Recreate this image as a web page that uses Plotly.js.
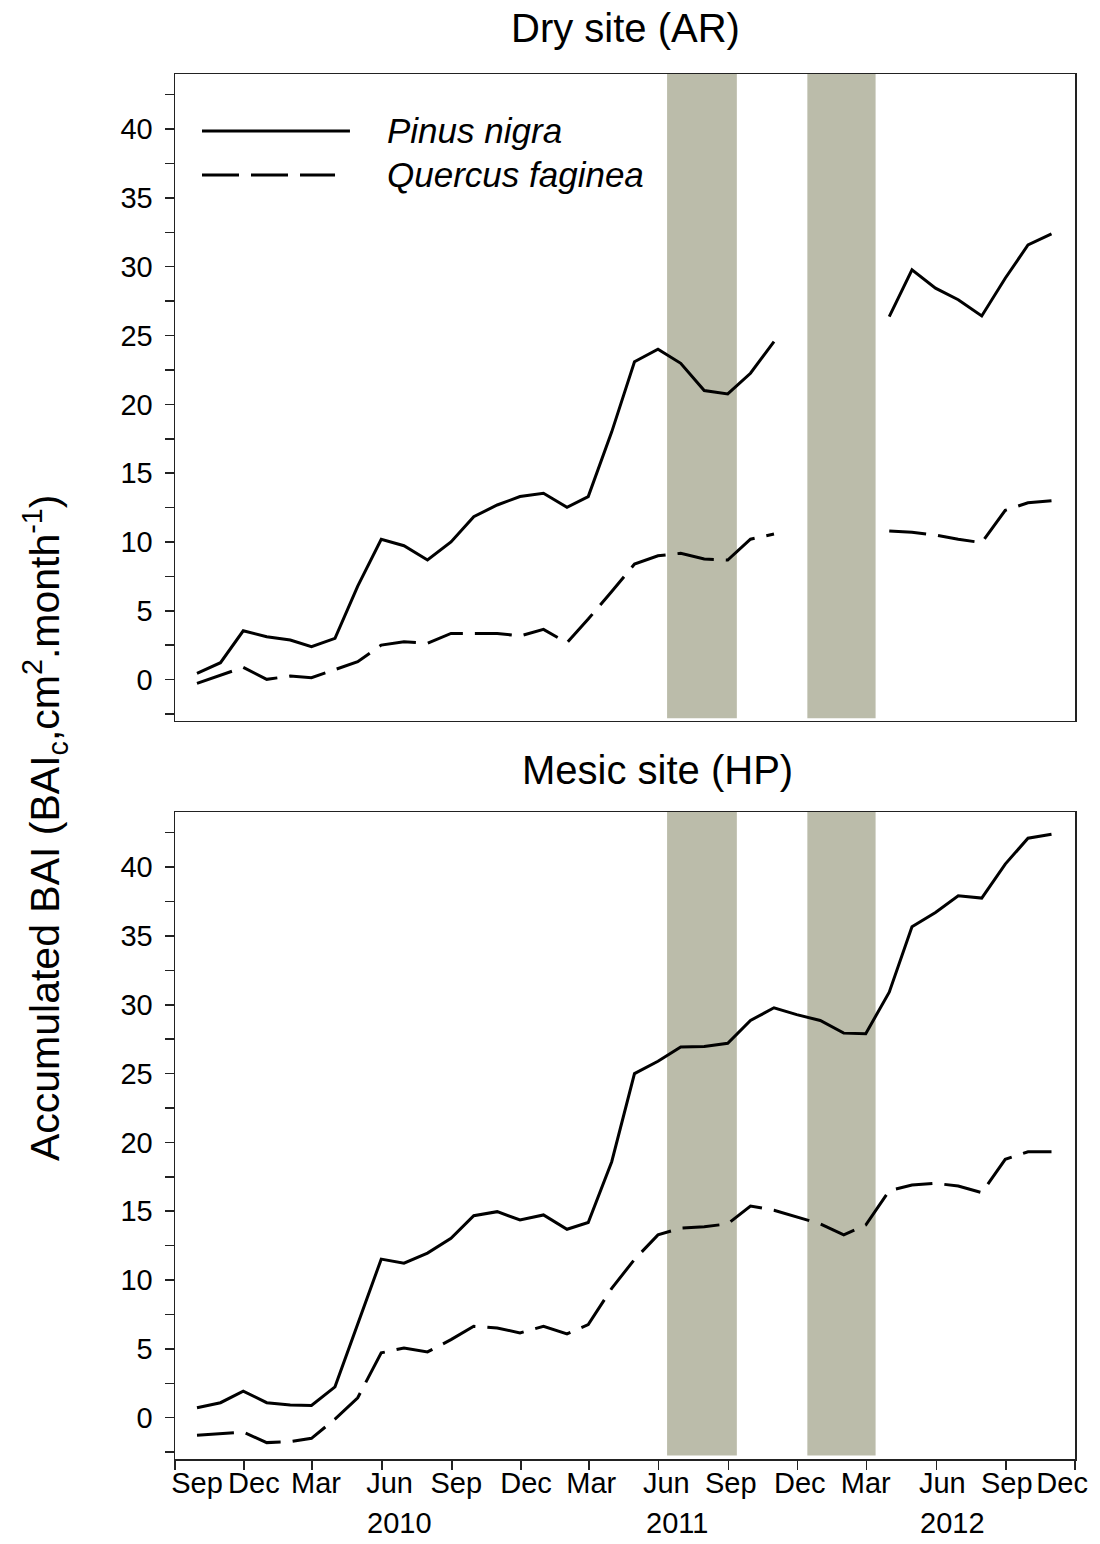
<!DOCTYPE html>
<html>
<head>
<meta charset="utf-8">
<script src="https://cdn.plot.ly/plotly-3.0.1.min.js"></script>
<style>
html,body{margin:0;padding:0;background:#fff;}
#chart{width:1100px;height:1544px;}
</style>
</head>
<body>
<div id="chart"></div>
<script>
// Month-end sampling dates (Sep 2009 – Oct 2012)
const dates = [
  "2009-09-30","2009-10-31","2009-11-30","2009-12-31","2010-01-31","2010-02-28",
  "2010-03-31","2010-04-30","2010-05-31","2010-06-30","2010-07-31","2010-08-31",
  "2010-09-30","2010-10-31","2010-11-30","2010-12-31","2011-01-31","2011-02-28",
  "2011-03-31","2011-04-30","2011-05-31","2011-06-30","2011-07-31","2011-08-31",
  "2011-09-30","2011-10-31","2011-11-30","2011-12-31","2012-01-31","2012-02-29",
  "2012-03-31","2012-04-30","2012-05-31","2012-06-30","2012-07-31","2012-08-31",
  "2012-09-30","2012-10-31"
];

// Dry site (AR)
const dryPinus = [0.46, 1.23, 3.55, 3.12, 2.88, 2.39, 3.0, 6.8, 10.2, 9.73,
  8.69, 10.0, 11.84, 12.69, 13.3, 13.54, 12.52, 13.3, 18.0, 23.1,
  24.0, 22.98, 21.0, 20.76, 22.26, 24.56, null, null, null, null,
  26.37, 29.77, 28.44, 27.6, 26.42, 29.16, 31.58, 32.38];
const dryQuercus = [-0.27, 0.33, 0.89, 0.02, 0.26, 0.14, 0.75, 1.3, 2.51, 2.75,
  2.64, 3.36, 3.36, 3.36, 3.17, 3.65, 2.68, 4.4, 6.4, 8.4,
  9.0, 9.18, 8.76, 8.69, 10.2, 10.58, null, null, null, null,
  10.8, 10.7, 10.5, 10.2, 9.95, 12.3, 12.85, 13.0];

// Mesic site (HP)
const mesicPinus = [0.72, 1.09, 1.93, 1.09, 0.92, 0.89, 2.24, 6.8, 11.52, 11.23,
  11.96, 13.04, 14.68, 14.97, 14.37, 14.73, 13.69, 14.18, 18.6, 25.0,
  25.9, 26.93, 26.97, 27.2, 28.86, 29.78, 29.28, 28.86, 27.94, 27.9,
  30.91, 35.67, 36.71, 37.92, 37.75, 40.22, 42.1, 42.39];
const mesicQuercus = [-1.28, -1.15, -1.05, -1.81, -1.74, -1.5, -0.1, 1.45, 4.71, 5.07,
  4.78, 5.67, 6.64, 6.52, 6.16, 6.64, 6.09, 6.76, 9.4, 11.5,
  13.28, 13.77, 13.88, 14.08, 15.38, 15.07, 14.57, 14.08, 13.28, 14.0,
  16.49, 16.9, 17.03, 16.83, 16.35, 18.77, 19.32, 19.32];

// Shaded periods
const bandStarts = ["2011-06-12", "2011-12-14"];
const bandEnds   = ["2011-09-12", "2012-03-13"];

// Axis ticks (tick marks at quarter starts; labels set slightly off the marks as in the original)
const xTickVals = ["2009-09-01","2009-12-01","2010-03-01","2010-06-01","2010-09-01","2010-12-01",
  "2011-03-01","2011-06-01","2011-09-01","2011-12-01","2012-03-01","2012-06-01","2012-09-01","2012-12-01"];
const xLabelVals = ["2009-09-30","2009-12-14","2010-03-06","2010-06-11","2010-09-07","2010-12-08",
  "2011-03-04","2011-06-11","2011-09-04","2011-12-04","2012-02-29","2012-06-09","2012-09-02","2012-11-14"];
const xTickText = ["Sep","Dec","Mar","Jun","Sep","Dec","Mar","Jun","Sep","Dec","Mar","Jun","Sep","Dec"];
const yearLabels = ["2010","2011","2012"];
const yearPos = ["2010-06-24","2011-06-25","2012-06-23"];

const seriesNames = ["Pinus nigra", "Quercus faginea"];
const panelTitles = ["Dry site (AR)", "Mesic site (HP)"];

const FONT = "Liberation Sans, Arial, sans-serif";
const solid = {color: "#000", width: 3, dash: "solid"};
const dashed = {color: "#000", width: 3, dash: "37px,12px"};

const traces = [
  {x: dates, y: dryPinus, xaxis: "x", yaxis: "y", mode: "lines", line: solid, name: seriesNames[0], showlegend: false, connectgaps: false},
  {x: dates, y: dryQuercus, xaxis: "x", yaxis: "y", mode: "lines", line: dashed, name: seriesNames[1], showlegend: false, connectgaps: false},
  {x: dates, y: mesicPinus, xaxis: "x2", yaxis: "y2", mode: "lines", line: solid, name: seriesNames[0], showlegend: false},
  {x: dates, y: mesicQuercus, xaxis: "x3", yaxis: "y2", mode: "lines", line: dashed, name: seriesNames[1], showlegend: false}
];

const bandColor = "#BBBCAA";
const shapes = [];
for (let i = 0; i < bandStarts.length; i++) {
  shapes.push({type: "rect", xref: "x", yref: "y", x0: bandStarts[i], x1: bandEnds[i], y0: -2.8, y1: 44,
    fillcolor: bandColor, line: {width: 0}, layer: "below"});
  shapes.push({type: "rect", xref: "x2", yref: "y2", x0: bandStarts[i], x1: bandEnds[i], y0: -2.75, y1: 44,
    fillcolor: bandColor, line: {width: 0}, layer: "below"});
}
// legend samples
shapes.push({type: "line", xref: "x domain", yref: "y domain", x0: 0.03, x1: 0.1944, y0: 0.912, y1: 0.912,
  line: {color: "#000", width: 3}});
shapes.push({type: "line", xref: "x domain", yref: "y domain", x0: 0.03, x1: 0.1778, y0: 0.8439, y1: 0.8439,
  line: {color: "#000", width: 3, dash: "37px,12px"}});

const annotations = [
  {text: panelTitles[0], xref: "paper", yref: "paper", x: 0.5, y: 1.0332, xanchor: "center", yanchor: "middle",
   showarrow: false, font: {family: FONT, size: 40, color: "#000"}},
  {text: panelTitles[1], xref: "paper", yref: "paper", x: 0.5356, y: 0.4975, xanchor: "center", yanchor: "middle",
   showarrow: false, font: {family: FONT, size: 40, color: "#000"}},
  {text: "Accumulated BAI (BAI<sub>c</sub>,cm<sup>2</sup>.month<sup>-1</sup>)", xref: "paper", yref: "paper",
   x: -0.1444, y: 0.4556, xanchor: "center", yanchor: "middle", textangle: -90,
   showarrow: false, font: {family: FONT, size: 41, color: "#000"}},
  {text: "<i>" + seriesNames[0] + "</i>", xref: "x domain", yref: "y domain", x: 0.2333, y: 0.912,
   xanchor: "left", yanchor: "middle", showarrow: false, font: {family: FONT, size: 35, color: "#000"}},
  {text: "<i>" + seriesNames[1] + "</i>", xref: "x domain", yref: "y domain", x: 0.2333, y: 0.8439,
   xanchor: "left", yanchor: "middle", showarrow: false, font: {family: FONT, size: 35, color: "#000"}}
];
for (let i = 0; i < yearLabels.length; i++) {
  annotations.push({text: yearLabels[i], xref: "x2", yref: "paper", x: yearPos[i], y: -0.0462,
    xanchor: "center", yanchor: "middle", showarrow: false, font: {family: FONT, size: 29, color: "#000"}});
}

const axisLine = {showline: true, linecolor: "#222", linewidth: 1.5, mirror: true, showgrid: false, zeroline: false};
const yCommon = Object.assign({}, axisLine, {
  range: [-3, 44], tickmode: "linear", tick0: 0, dtick: 5, ticks: "outside", ticklen: 9, tickwidth: 1.5,
  tickcolor: "#222", tickfont: {family: FONT, size: 29, color: "#000"}, ticklabelstandoff: 6,
  minor: {tickmode: "linear", tick0: 0, dtick: 2.5, ticks: "outside", ticklen: 9, tickwidth: 1.5, tickcolor: "#222", showgrid: false}
});

const xRange = ["2009-09-01", "2012-12-01"];
const layout = {
  width: 1100, height: 1544,
  margin: {l: 175, r: 25, t: 74, b: 85},
  paper_bgcolor: "#fff", plot_bgcolor: "#fff",
  showlegend: false,
  font: {family: FONT, color: "#000"},
  xaxis: Object.assign({}, axisLine, {type: "date", range: xRange, anchor: "y",
    domain: [0, 1], showticklabels: false, ticks: ""}),
  xaxis2: Object.assign({}, axisLine, {type: "date", range: xRange, anchor: "y2",
    domain: [0, 1], tickmode: "array", tickvals: xTickVals, ticktext: xTickText, showticklabels: false,
    ticks: "outside", ticklen: 9, tickwidth: 1.5, tickcolor: "#222"}),
  xaxis3: {type: "date", range: xRange, anchor: "y2", overlaying: "x2", side: "bottom",
    showline: false, showgrid: false, zeroline: false, ticks: "", tickmode: "array",
    tickvals: xLabelVals, ticktext: xTickText, ticklabelstandoff: 4, ticklabeloverflow: "allow",
    tickfont: {family: FONT, size: 29, color: "#000"}},
  yaxis: Object.assign({}, yCommon, {domain: [0.5329, 1], anchor: "x"}),
  yaxis2: Object.assign({}, yCommon, {domain: [0, 0.4671], anchor: "x2"}),
  shapes: shapes,
  annotations: annotations
};

Plotly.newPlot("chart", traces, layout, {staticPlot: true, displayModeBar: false});
</script>
</body>
</html>
